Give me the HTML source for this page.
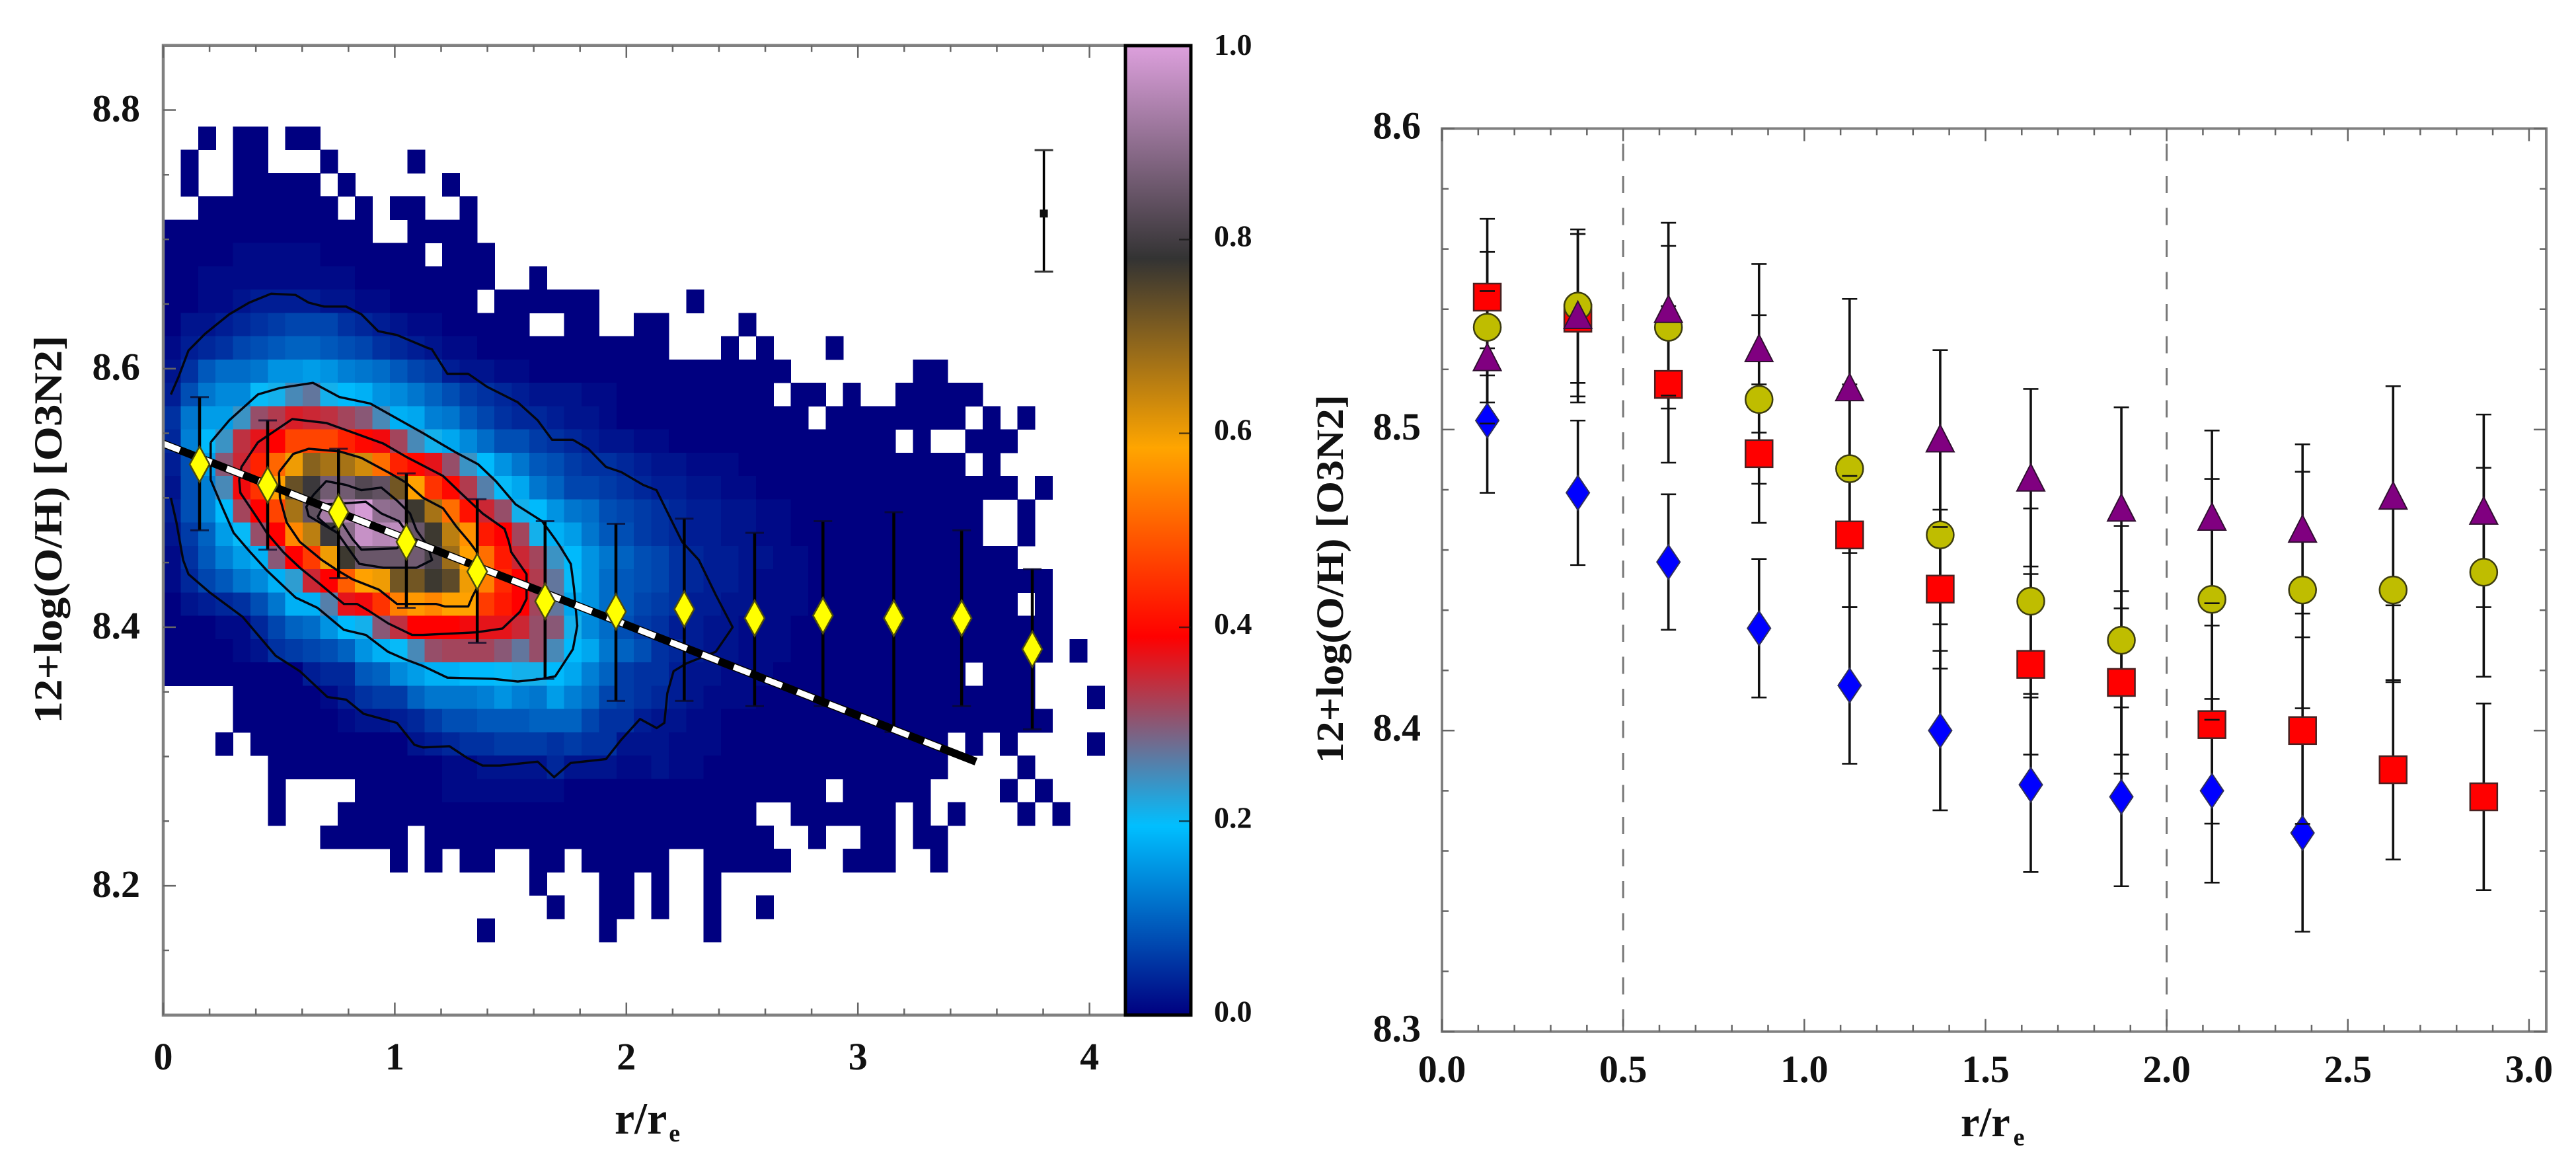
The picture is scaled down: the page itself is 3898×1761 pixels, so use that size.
<!DOCTYPE html>
<html>
<head>
<meta charset="utf-8">
<title>12+log(O/H) [O3N2] radial profiles</title>
<style>
html,body{margin:0;padding:0;background:#fff;}
svg{display:block;}
text{font-family:"Liberation Serif",serif;font-weight:bold;fill:#111;}
</style>
</head>
<body>
<svg id="fig" xmlns="http://www.w3.org/2000/svg" width="3898" height="1761" viewBox="0 0 3898 1761">
  <rect x="0" y="0" width="3898" height="1761" fill="#ffffff"/>
  <g id="left"></g>
  <g id="cbar"></g>
  <g id="right"></g>
  <text transform="translate(93,801) rotate(-90)" text-anchor="middle" font-size="60" textLength="587" lengthAdjust="spacingAndGlyphs">12+log(O/H) [O3N2]</text>
  <text x="930" y="1715" font-size="68">r/r<tspan font-size="38" dy="12" dx="3">e</tspan></text>
  <text transform="translate(2032,876) rotate(-90)" text-anchor="middle" font-size="58" textLength="558" lengthAdjust="spacingAndGlyphs">12+log(O/H) [O3N2]</text>
  <text x="2967" y="1719" font-size="64">r/r<tspan font-size="38" dy="14" dx="5">e</tspan></text>
</svg>
<script>
const _ = null;
/* ---------- density histogram: percent of peak per bin, top row first ---------- */
const binR = 0.07528;
const binOH = 0.01802;
const topEdgeOH = 8.7873;
const heat = [
[_,_,0,_,0,0,_,0,0],
[_,0,_,_,0,0,_,_,_,0,_,_,_,_,0],
[_,0,_,_,0,0,0,0,0,_,0,_,_,_,_,_,0],
[_,_,0,0,0,0,0,0,0,0,_,0,_,0,0,_,_,0],
[0,0,0,0,0,0,0,0,0,0,0,0,_,_,0,0,0,0],
[0,0,0,0,1,1,1,1,1,0,0,0,0,0,0,_,0,0,0],
[0,0,1,1,1,1,1,1,1,1,1,0,0,0,0,0,0,0,0,_,_,0],
[0,0,1,1,2,3,3,3,3,2,2,1,1,0,0,0,0,0,_,0,0,0,0,0,0,_,_,_,_,_,0],
[0,2,2,3,4,5,6,7,7,7,5,4,3,2,1,1,0,0,0,0,0,_,_,0,0,_,_,0,0,_,_,_,_,0],
[1,3,4,5,7,8,9,10,10,9,8,7,5,4,3,2,1,1,0,0,0,0,0,0,0,0,0,0,0,_,_,_,0,_,0,_,_,_,0],
[2,5,9,11,11,12,15,15,16,15,13,12,11,9,7,6,3,2,2,1,1,0,0,0,0,0,0,0,0,0,0,0,0,0,0,0,_,_,_,_,_,_,_,0,0],
[3,8,12,14,14,20,21,25,27,21,19,18,15,14,12,10,8,6,5,4,3,2,2,2,1,1,0,0,0,0,0,0,0,0,0,_,0,0,_,0,_,_,0,0,0,0,0],
[5,12,16,16,24,31,33,36,35,34,32,30,25,18,17,13,12,9,7,5,4,4,3,2,2,1,0,0,0,0,0,0,0,0,0,0,0,_,0,0,0,0,0,0,0,0,_,0,_,0],
[4,13,19,24,34,37,39,47,47,47,43,40,38,32,25,21,17,14,11,8,8,6,5,4,3,2,2,1,1,0,0,0,0,0,0,0,0,0,0,0,0,0,_,0,_,_,0,0,0],
[3,8,16,30,35,43,51,60,70,67,67,63,52,43,40,37,31,24,19,15,12,9,8,6,5,5,4,3,2,2,1,1,1,0,0,0,0,0,0,0,0,0,0,0,0,0,_,0],
[2,8,13,25,38,45,58,73,79,86,86,82,84,72,58,45,40,33,26,20,17,12,10,7,7,6,5,4,3,3,2,2,1,1,0,0,0,0,0,0,0,0,0,0,0,0,0,0,0,_,0],
[3,8,13,19,32,39,47,67,84,93,95,99,90,89,77,67,52,41,35,31,21,19,15,12,11,8,7,6,5,4,3,3,2,2,1,1,0,0,0,0,0,0,0,0,0,0,0,_,_,0],
[2,6,10,16,20,31,39,55,65,79,89,97,95,96,85,77,65,56,42,39,32,21,18,16,12,9,8,6,5,4,3,3,2,2,1,1,0,0,0,0,0,0,0,0,0,0,0,_,_,0],
[1,5,9,13,16,18,30,39,46,60,77,85,85,85,86,81,68,58,52,42,35,32,24,19,15,12,10,8,7,5,4,3,3,2,2,1,1,0,0,0,0,0,0,0,0,0,0,0,0],
[1,4,7,9,12,14,18,23,35,39,50,58,60,72,72,77,74,60,54,44,39,33,27,20,15,11,9,8,7,5,4,3,3,2,1,1,1,0,0,0,0,0,0,0,0,0,0,0,0,0,0],
[0,2,3,4,5,8,12,18,18,26,37,38,45,54,57,55,58,58,46,42,39,32,27,17,15,11,9,7,6,5,3,3,2,2,1,1,1,0,0,0,0,0,0,0,0,0,0,0,0,_,0],
[0,0,0,1,1,4,7,10,11,15,19,21,30,34,39,39,39,38,37,37,35,31,30,21,14,11,8,6,5,3,3,2,2,1,1,1,0,0,0,0,0,0,0,0,0,0,0,0,0,0,0],
[0,0,0,0,1,2,5,6,7,8,10,15,18,20,25,31,32,32,32,30,27,31,25,19,17,12,10,8,5,4,3,2,2,1,1,1,0,0,0,0,0,0,0,0,0,0,0,0,0,0,0,_,0],
[0,0,0,0,0,0,0,0,3,4,4,9,10,14,16,18,18,19,19,20,21,21,19,17,13,10,6,5,5,3,2,2,1,1,1,0,0,0,0,0,0,0,0,0,0,0,_,0,0,0],
[_,_,_,_,0,0,0,0,0,1,3,5,6,6,10,12,12,12,13,15,13,12,16,13,11,7,6,5,4,3,2,1,1,1,0,0,0,0,0,0,0,0,0,0,0,0,0,0,0,0,_,_,_,0],
[_,_,_,_,0,0,0,0,0,0,1,2,2,3,4,6,8,8,9,9,9,10,10,10,7,5,5,3,2,2,1,1,0,0,0,0,0,0,0,0,0,0,0,0,0,0,0,0,0,0,0],
[_,_,_,0,_,0,0,0,0,0,0,0,0,0,2,3,4,5,5,6,6,6,5,6,5,5,2,2,2,1,1,1,0,0,0,0,0,0,0,0,0,0,0,0,0,_,0,_,0,_,_,_,_,0],
[_,_,_,_,_,_,0,0,0,0,0,0,0,0,0,0,1,1,2,2,2,2,4,2,2,2,1,1,2,1,1,0,0,0,0,0,0,0,0,0,0,0,0,0,0,_,_,_,_,0],
[_,_,_,_,_,_,0,_,_,_,_,0,0,0,0,0,1,1,1,1,1,1,1,0,0,0,0,0,0,0,0,0,0,0,0,0,0,0,_,0,0,0,0,0,_,_,_,_,0,_,0],
[_,_,_,_,_,_,0,_,_,_,0,0,0,0,0,0,0,0,0,0,0,0,0,0,0,0,0,0,0,0,0,0,0,0,_,_,0,0,0,0,0,0,_,0,_,0,_,_,_,0,_,0],
[_,_,_,_,_,_,_,_,_,0,0,0,0,0,_,0,0,0,0,0,0,0,0,0,0,0,0,0,0,0,0,0,0,0,0,_,_,0,_,_,0,0,_,0,0],
[_,_,_,_,_,_,_,_,_,_,_,_,_,0,_,0,_,0,0,_,_,0,0,_,0,0,0,0,0,_,_,0,0,0,0,0,_,_,_,0,0,0,_,_,0],
[_,_,_,_,_,_,_,_,_,_,_,_,_,_,_,_,_,_,_,_,_,0,_,_,_,0,0,_,0,_,_,0],
[_,_,_,_,_,_,_,_,_,_,_,_,_,_,_,_,_,_,_,_,_,_,0,_,_,0,0,_,0,_,_,0,_,_,0],
[_,_,_,_,_,_,_,_,_,_,_,_,_,_,_,_,_,_,0,_,_,_,_,_,_,0,_,_,_,_,_,0]
];
/* ---------- colormap ---------- */
const cmapStops = [0, 0.195, 0.39, 0.585, 0.78, 1];
const cmapColors = ['#000080', '#00bfff', '#ff0000', '#ffa500', '#333333', '#dda0dd'];
/* ---------- contours [r/re, 12+log(O/H)] ---------- */
const contourOuter = [[.033,8.580],[.067,8.594],[.109,8.614],[.181,8.627],[.285,8.642],[.371,8.651],[.466,8.658],[.571,8.657],[.628,8.651],[.695,8.648],[.790,8.648],[.856,8.642],[.928,8.629],[1.009,8.626],[1.142,8.616],[1.160,8.615],[1.227,8.596],[1.317,8.596],[1.398,8.586],[1.531,8.574],[1.617,8.560],[1.679,8.545],[1.769,8.545],[1.836,8.538],[1.912,8.524],[1.978,8.520],[2.073,8.510],[2.130,8.506],[2.188,8.485],[2.241,8.466],[2.313,8.452],[2.386,8.425],[2.459,8.400],[2.386,8.381],[2.259,8.372],[2.204,8.366],[2.177,8.349],[2.164,8.326],[2.131,8.322],[2.059,8.329],[1.978,8.313],[1.912,8.298],[1.759,8.295],[1.688,8.284],[1.617,8.296],[1.455,8.293],[1.379,8.293],[1.312,8.299],[1.236,8.308],[1.122,8.307],[1.085,8.309],[1.009,8.326],[.866,8.333],[.790,8.344],[.709,8.346],[.590,8.366],[.485,8.378],[.343,8.408],[.200,8.427],[.109,8.441],[.086,8.452],[.057,8.481],[.033,8.500]];
const contourSecond = [[.205,8.543],[.285,8.560],[.409,8.580],[.504,8.585],[.647,8.589],[.761,8.578],[.894,8.573],[1.123,8.550],[1.208,8.541],[1.265,8.535],[1.360,8.526],[1.436,8.513],[1.522,8.495],[1.636,8.482],[1.693,8.468],[1.712,8.463],[1.760,8.449],[1.774,8.430],[1.788,8.401],[1.769,8.383],[1.693,8.362],[1.636,8.360],[1.531,8.358],[1.426,8.360],[1.227,8.361],[1.122,8.370],[1.047,8.375],[.971,8.381],[.875,8.394],[.780,8.398],[.666,8.415],[.571,8.423],[.447,8.444],[.371,8.459],[.304,8.473],[.257,8.492],[.205,8.514],[.205,8.543]];
const contourThird = [[.328,8.514],[.338,8.524],[.409,8.543],[.557,8.561],[.704,8.558],[.828,8.550],[.951,8.542],[1.047,8.532],[1.208,8.517],[1.284,8.504],[1.379,8.488],[1.474,8.476],[1.493,8.466],[1.503,8.458],[1.569,8.441],[1.569,8.422],[1.541,8.412],[1.465,8.399],[1.350,8.396],[1.122,8.394],[1.075,8.394],[.971,8.403],[.885,8.413],[.837,8.418],[.780,8.418],[.666,8.435],[.590,8.446],[.519,8.458],[.447,8.473],[.419,8.481],[.333,8.504],[.328,8.514]];
const contourFourth = [[.500,8.520],[.561,8.534],[.628,8.538],[.761,8.536],[.856,8.531],[.980,8.519],[1.047,8.512],[1.123,8.500],[1.208,8.492],[1.265,8.478],[1.322,8.466],[1.355,8.458],[1.360,8.432],[1.336,8.424],[1.317,8.416],[1.217,8.416],[1.179,8.418],[1.122,8.418],[1.009,8.418],[.932,8.429],[.818,8.437],[.752,8.444],[.685,8.452],[.590,8.466],[.533,8.481],[.504,8.500],[.500,8.520]];
const contourFifth = [[.647,8.502],[.704,8.513],[.790,8.510],[.856,8.506],[.942,8.508],[1.009,8.498],[1.066,8.488],[1.094,8.475],[1.142,8.463],[1.161,8.452],[1.094,8.446],[.951,8.446],[.847,8.449],[.799,8.461],[.752,8.473],[.628,8.486],[.618,8.493],[.647,8.502]];
const contourSixth = [[.666,8.485],[.695,8.495],[.799,8.496],[.875,8.497],[.942,8.488],[1.018,8.482],[1.066,8.470],[1.009,8.461],[.856,8.460],[.818,8.468],[.771,8.481],[.723,8.476],[.666,8.485]];
/* ---------- linear fit ---------- */
const fitR = [0, 3.51];
const fitOH = [8.542, 8.296];
/* ---------- binned means (yellow diamonds) ---------- */
const meanR = [.157,.451,.757,1.050,1.356,1.649,1.955,2.250,2.554,2.849,3.155,3.448,3.753];
const meanOH = [8.526,8.510,8.489,8.466,8.443,8.420,8.412,8.414,8.407,8.409,8.407,8.407,8.383];
const meanHi = [8.578,8.560,8.538,8.519,8.499,8.482,8.480,8.484,8.473,8.482,8.489,8.475,8.445];
const meanLo = [8.475,8.460,8.438,8.415,8.388,8.360,8.343,8.343,8.339,8.339,8.319,8.339,8.321];
/* ---------- representative error ---------- */
const sampleErrR = [3.803];
const sampleErrOH = [8.720];
const sampleErrHi = [8.769];
const sampleErrLo = [8.675];
/* ---------- left ticks ---------- */
const leftXMajor = [0,1,2,3,4];
const leftXMinor = [.2,.4,.6,.8,1.2,1.4,1.6,1.8,2.2,2.4,2.6,2.8,3.2,3.4,3.6,3.8];
const leftYMajor = [8.2,8.4,8.6,8.8];
const leftYMinor = [8.15,8.25,8.3,8.35,8.45,8.5,8.55,8.65,8.7,8.75];
const leftXLabels = ['0','1','2','3','4'];
const leftYLabels = ['8.2','8.4','8.6','8.8'];
const cbarTicks = [0,.2,.4,.6,.8,1];
const cbarLabels = ['0.0','0.2','0.4','0.6','0.8','1.0'];
/* ---------- right panel ---------- */
const binCenters = [.125,.375,.625,.875,1.125,1.375,1.625,1.875,2.125,2.375,2.625,2.875];
const blueOH = [8.503,8.479,8.456,8.434,8.415,8.400,8.382,8.378,8.380,8.366];
const blueErr = [.024,.024,.0225,.023,.026,.0265,.029,.0297,.0305,.0328];
const redOH = [8.544,8.537,8.515,8.492,8.465,8.447,8.422,8.416,8.402,8.400,8.387,8.378];
const redErr = [.026,.028,.026,.023,.024,.0264,.030,.0303,.0329,.031,.0298,.031];
const yellowOH = [8.534,8.541,8.534,8.510,8.487,8.465,8.443,8.430,8.4436,8.4467,8.4467,8.4526];
const yellowErr = [.025,.0255,.027,.028,.028,.0297,.0308,.038,.040,.0393,.0306,.0347];
const purpleOH = [8.524,8.538,8.540,8.527,8.514,8.497,8.484,8.474,8.471,8.467,8.478,8.473];
const purpleErr = [.022,.027,.0287,.028,.0294,.0294,.0295,.0334,.0287,.0281,.0364,.032];
const refLines = [0.5, 2.0];
const rightXMajor = [0,.5,1,1.5,2,2.5,3];
const rightXMinor = [.1,.2,.3,.4,.6,.7,.8,.9,1.1,1.2,1.3,1.4,1.6,1.7,1.8,1.9,2.1,2.2,2.3,2.4,2.6,2.7,2.8,2.9];
const rightYMajor = [8.3,8.4,8.5,8.6];
const rightYMinor = [8.32,8.34,8.36,8.38,8.42,8.44,8.46,8.48,8.52,8.54,8.56,8.58];
const rightXLabels = ['0.0','0.5','1.0','1.5','2.0','2.5','3.0'];
const rightYLabels = ['8.3','8.4','8.5','8.6'];

/* ---------- axis functions ---------- */
const xL = r => 247 + 350.4 * r;
const yL = o => 1535.7 - (o - 8.1) * 1956;
const yC = v => 1535.7 - v * 1466.7;
const xR = r => 2182 + 548.3 * r;
const yR = o => 1560.7 - (o - 8.3) * 4554;

const NS = 'http://www.w3.org/2000/svg';
const make = (tag, parent) => { const n = document.createElementNS(NS, tag); parent.appendChild(n); return n; };
const put = (n, attrs) => { for (const k in attrs) n.setAttribute(k, attrs[k]); return n; };
const hexRgb = h => [1,3,5].map(i => parseInt(h.substr(i,2),16));
function cmap(v){
  for (let i = 1; i < cmapStops.length; i++){
    if (v <= cmapStops[i]){
      const t = (v - cmapStops[i-1]) / (cmapStops[i] - cmapStops[i-1]);
      const a = hexRgb(cmapColors[i-1]), b = hexRgb(cmapColors[i]);
      return 'rgb(' + a.map((c,j) => Math.round(c + (b[j]-c)*t)).join(',') + ')';
    }
  }
  return cmapColors[cmapColors.length-1];
}

const gL = document.getElementById('left');
const gC = document.getElementById('cbar');
const gR = document.getElementById('right');
const pts = (a, X, Y) => a.map(p => X(p[0]).toFixed(1) + ',' + Y(p[1]).toFixed(1)).join(' ');

/* heatmap */
heat.forEach((row, j) => {
  row.forEach((v, i) => {
    if (v === null) return;
    const cell = make('rect', gL);
    
    
    const x0 = xL(i * binR), x1 = xL((i + 1) * binR);
    const y0 = yL(topEdgeOH - j * binOH), y1 = yL(topEdgeOH - (j + 1) * binOH);
    put(cell, {x:x0.toFixed(1), y:y0.toFixed(1), width:(x1-x0+0.6).toFixed(1), height:(y1-y0+0.6).toFixed(1), fill:cmap(v/100), 'shape-rendering':'crispEdges'});
  });
});

/* contours */
[contourOuter, contourSecond, contourThird, contourFourth, contourFifth, contourSixth].forEach(c => {
  const line = make('polyline', gL);
  
  
  put(line, {points:pts(c, xL, yL), fill:'none', stroke:'#04060f', 'stroke-width':3.4, 'stroke-linejoin':'round'});
});

/* mean error bars */
meanR.forEach((r, i) => {
  const bar = make('line', gL);
  
  
  put(bar, {x1:xL(r), x2:xL(r), y1:yL(meanHi[i]), y2:yL(meanLo[i]), stroke:'#000', 'stroke-width':4.5});
  [meanHi[i], meanLo[i]].forEach(o => {
    const cap = make('line', gL);
    
    
    put(cap, {x1:xL(r)-14, x2:xL(r)+14, y1:yL(o), y2:yL(o), stroke:'#0a0a2a', 'stroke-width':3, 'stroke-opacity':.75});
  });
});

/* fit line */
const fitBlack = make('line', gL);


put(fitBlack, {x1:xL(fitR[0]), y1:yL(fitOH[0]), x2:xL(fitR[1]), y2:yL(fitOH[1]), stroke:'#000', 'stroke-width':12});
const fitFrac = 0.957;
const fitWhite = make('line', gL);


put(fitWhite, {x1:xL(fitR[0]), y1:yL(fitOH[0]), x2:xL(fitR[0]+(fitR[1]-fitR[0])*fitFrac), y2:yL(fitOH[0]+(fitOH[1]-fitOH[0])*fitFrac), stroke:'#fff', 'stroke-width':9, 'stroke-dasharray':'27 24.5'});

/* mean diamonds */
meanR.forEach((r, i) => {
  const d = make('polygon', gL);
  
  
  const x = xL(r), y = yL(meanOH[i]);
  put(d, {points:[x,y-27,x+15,y,x,y+27,x-15,y].join(' '), fill:'#ffff00', stroke:'#4a4a10', 'stroke-width':2.5});
});

/* representative error */
sampleErrR.forEach((r, i) => {
  const bar = make('line', gL);
  
  
  put(bar, {x1:xL(r), x2:xL(r), y1:yL(sampleErrHi[i]), y2:yL(sampleErrLo[i]), stroke:'#000', 'stroke-width':3.5});
  [sampleErrHi[i], sampleErrLo[i]].forEach(o => {
    const cap = make('line', gL);
    
    
    put(cap, {x1:xL(r)-14, x2:xL(r)+14, y1:yL(o), y2:yL(o), stroke:'#333', 'stroke-width':3});
  });
  const dot = make('rect', gL);
  
  
  put(dot, {x:xL(r)-6, y:yL(sampleErrOH[i])-6, width:12, height:12, fill:'#111'});
});

/* left frame */
const leftFrame = make('path', gL);


put(leftFrame, {d:'M1703 '+yL(8.85)+' H'+xL(0)+' V'+yL(8.1)+' H1703', fill:'none', stroke:'#808080', 'stroke-width':4.5});

/* left ticks */
function tickX(g, X, yTop, yBot, r, len){
  [[yTop, yTop+len],[yBot, yBot-len]].forEach(s => {
    const t = make('line', g);
    
    
    put(t, {x1:X(r), x2:X(r), y1:s[0], y2:s[1], stroke:'#666', 'stroke-width':2.5});
  });
}
function tickY(g, Y, xA, dir, o, len){
  const t = make('line', g);
  
  
  put(t, {y1:Y(o), y2:Y(o), x1:xA, x2:xA+dir*len, stroke:'#666', 'stroke-width':2.5});
}
leftXMajor.forEach(r => tickX(gL, xL, yL(8.85), yL(8.1), r, 19));
leftXMinor.forEach(r => tickX(gL, xL, yL(8.85), yL(8.1), r, 10));
leftYMajor.forEach(o => tickY(gL, yL, xL(0), 1, o, 19));
leftYMinor.forEach(o => tickY(gL, yL, xL(0), 1, o, 9));

leftXMajor.forEach((r, i) => {
  const t = make('text', gL);
  
  
  put(t, {x:xL(r), y:1618, 'text-anchor':'middle', 'font-size':58});
  t.textContent = leftXLabels[i];
});
leftYMajor.forEach((o, i) => {
  const t = make('text', gL);
  
  
  put(t, {x:212, y:yL(o)+17, 'text-anchor':'end', 'font-size':58});
  t.textContent = leftYLabels[i];
});

/* colorbar */
const defs = make('defs', gC);
const grad = make('linearGradient', defs);
put(grad, {id:'cbarGrad', x1:0, y1:1, x2:0, y2:0});
cmapStops.forEach((s, i) => {
  const st = make('stop', grad);
  put(st, {offset:s, 'stop-color':cmapColors[i]});
});
const cbarRect = make('rect', gC);


put(cbarRect, {x:1703, y:yC(1), width:99, height:yC(0)-yC(1), fill:'url(#cbarGrad)', stroke:'#000', 'stroke-width':5});
cbarTicks.forEach((v, i) => {
  if (v > 0 && v < 1){
    const t = make('line', gC);
    
    
    put(t, {x1:1784, x2:1802, y1:yC(v), y2:yC(v), stroke:'#111', 'stroke-width':2.5, 'stroke-opacity':.7});
  }
  const l = make('text', gC);
  
  
  put(l, {x:1837, y:yC(v)+ (v === 1 ? 14 : 10), 'font-size':46});
  l.textContent = cbarLabels[i];
});

/* right panel: frame, reference lines, ticks */
const rightFrame = make('rect', gR);


put(rightFrame, {x:xR(0), y:yR(8.6), width:3853-xR(0), height:yR(8.3)-yR(8.6), fill:'none', stroke:'#808080', 'stroke-width':4});
refLines.forEach(r => {
  const l = make('line', gR);
  
  
  put(l, {x1:xR(r), x2:xR(r), y1:yR(8.6), y2:yR(8.3), stroke:'#777', 'stroke-width':3, 'stroke-dasharray':'26 22.5', 'stroke-dashoffset':25.5});
});
rightXMajor.forEach(r => tickX(gR, xR, yR(8.6), yR(8.3), r, 19));
rightXMinor.forEach(r => tickX(gR, xR, yR(8.6), yR(8.3), r, 10));
rightYMajor.forEach(o => { tickY(gR, yR, xR(0), 1, o, 19); tickY(gR, yR, 3853, -1, o, 19); });
rightYMinor.forEach(o => { tickY(gR, yR, xR(0), 1, o, 10); tickY(gR, yR, 3853, -1, o, 10); });
rightXMajor.forEach((r, i) => {
  const t = make('text', gR);
  
  
  put(t, {x:xR(r), y:1637, 'text-anchor':'middle', 'font-size':58});
  t.textContent = rightXLabels[i];
});
rightYMajor.forEach((o, i) => {
  const t = make('text', gR);
  
  
  put(t, {x:2150, y:yR(o)+15, 'text-anchor':'end', 'font-size':58});
  t.textContent = rightYLabels[i];
});

/* right panel: series */
const seriesList = [
  {key:'blue', vals:blueOH, errs:blueErr},
  {key:'red', vals:redOH, errs:redErr},
  {key:'yellow', vals:yellowOH, errs:yellowErr},
  {key:'purple', vals:purpleOH, errs:purpleErr}
];
seriesList.forEach(s => {
  s.vals.forEach((o, i) => {
    const bar = make('line', gR);
    
    
    const x = xR(binCenters[i]);
    put(bar, {x1:x, x2:x, y1:yR(o + s.errs[i]), y2:yR(o - s.errs[i]), stroke:'#111', 'stroke-width':3.6});
  });
});
function marker(key, x, y, parent){
  let m;
  if (key === 'blue'){
    m = make('polygon', parent);
    
    
    put(m, {points:[x,y-26,x+17.5,y,x,y+26,x-17.5,y].join(' '), fill:'#0000ff', stroke:'#30305a', 'stroke-width':2});
  } else if (key === 'red'){
    m = make('rect', parent);
    
    
    put(m, {x:x-20.5, y:y-20.5, width:41, height:41, fill:'#ff0000', stroke:'#4a2020', 'stroke-width':2.5});
  } else if (key === 'yellow'){
    m = make('circle', parent);
    
    
    put(m, {cx:x, cy:y, r:20.5, fill:'#bfbd00', stroke:'#3c3c10', 'stroke-width':2.5});
  } else {
    m = make('polygon', parent);
    
    
    put(m, {points:[x,y-21,x+21,y+20,x-21,y+20].join(' '), fill:'#800080', stroke:'#301030', 'stroke-width':2});
  }
}
seriesList.forEach(s => {
  s.vals.forEach((o, i) => {
    marker(s.key, xR(binCenters[i]), yR(o), gR);
  });
  s.vals.forEach((o, i) => {
    [o + s.errs[i], o - s.errs[i]].forEach(e => {
      const cap = make('line', gR);
      
      
      const x = xR(binCenters[i]);
      put(cap, {x1:x-11.5, x2:x+11.5, y1:yR(e), y2:yR(e), stroke:'#111', 'stroke-width':2.6});
    });
  });
});
</script>
</body>
</html>
